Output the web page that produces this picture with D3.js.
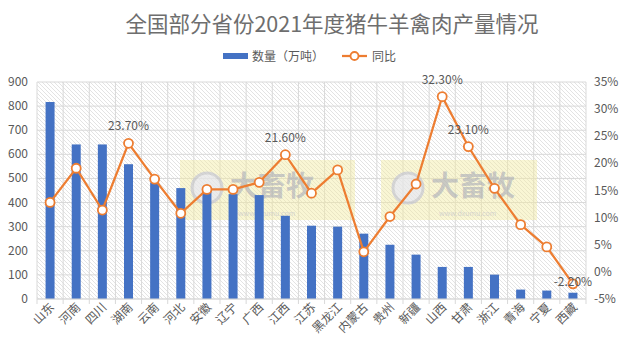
<!DOCTYPE html>
<html><head><meta charset="utf-8">
<script src="https://cdn.jsdelivr.net/npm/d3@7"></script>
<style>
html,body{margin:0;padding:0;background:#fff;}
text{font-family:"Microsoft YaHei","Noto Sans CJK SC",sans-serif;}
</style></head>
<body><svg id="c" width="623" height="353"></svg>
<script>
const categories = ["山东","河南","四川","湖南","云南","河北","安徽","辽宁","广西","江西","江苏","黑龙江","内蒙古","贵州","新疆","山西","甘肃","浙江","青海","宁夏","西藏"];
const amount = [817,641,641,559,483,460,446,435,431,345,304,300,271,225,184,133,133,101,39,35,26];
const yoy = [12.8,19.1,11.4,23.7,17.1,10.8,15.2,15.2,16.5,21.6,14.5,18.8,3.7,10.2,16.2,32.3,23.1,15.4,8.7,4.6,-2.2];
const labelled = {"湖南":"23.70%","江西":"21.60%","山西":"32.30%","甘肃":"23.10%","西藏":"-2.20%"};
const leftTicks = [0,100,200,300,400,500,600,700,800,900];
const rightTicks = [-5,0,5,10,15,20,25,30,35];
const title = "全国部分省份2021年度猪牛羊禽肉产量情况";
const legendNames = ["数量（万吨）","同比"];

const svg = d3.select("#c");
const L=37,R=586,T=82,B=299;
const x = d3.scaleBand().domain(categories).range([L,R]).paddingInner(0).paddingOuter(0);
const y = d3.scaleLinear().domain([0,900]).range([B,T]);
const y2 = d3.scaleLinear().domain([-5,35]).range([B,T]);
const grid="#d9d9d9", txt="#595959";

const defs = svg.append("defs");
const pat = defs.append("pattern").attr("id","hatch").attr("patternUnits","userSpaceOnUse")
  .attr("width",4).attr("height",4);
pat.append("path").attr("d","M-1,-1 L5,5 M-1,3 L1,5 M3,-1 L5,1").attr("stroke","#dcdcdc").attr("stroke-width",0.8);
svg.append("rect").attr("x",L).attr("y",T).attr("width",R-L).attr("height",B-T).attr("fill","url(#hatch)");

// gridlines
svg.append("g").selectAll("line").data(leftTicks).join("line")
  .attr("x1",L).attr("x2",R).attr("y1",d=>y(d)).attr("y2",d=>y(d)).attr("stroke",grid).attr("stroke-width",1);
const bounds = categories.map(c=>x(c)).concat([R]);
svg.append("g").selectAll("line").data(bounds).join("line")
  .attr("x1",d=>d).attr("x2",d=>d).attr("y1",T).attr("y2",B+5).attr("stroke",grid).attr("stroke-width",1);

// watermarks
function wm(x0,w){
  const g=svg.append("g").attr("opacity",0.75);
  g.append("rect").attr("x",x0).attr("y",160).attr("width",w).attr("height",60).attr("fill","#f3eba0").attr("opacity",0.6);
  g.append("circle").attr("cx",x0+27).attr("cy",188).attr("r",15).attr("fill","#e6e6e6").attr("stroke","#c8c8c8").attr("stroke-width",3);
  g.append("text").attr("x",x0+50).attr("y",196).attr("font-size",28).attr("font-weight","bold").attr("fill","#b8b8b0").text("大畜牧");
  g.append("text").attr("x",x0+58).attr("y",216).attr("font-size",7).attr("fill","#c8c8c0").text("www.dxumu.com");
}
wm(180,175); wm(381,156);

// bars
const bw=9;
svg.append("g").selectAll("rect").data(categories).join("rect")
  .attr("x",(d)=>x(d)+x.bandwidth()/2-bw/2).attr("width",bw)
  .attr("y",(d,i)=>y(amount[i])).attr("height",(d,i)=>B-y(amount[i])).attr("fill","#4472c4");

// line
const cx = d=>x(d)+x.bandwidth()/2;
const line = d3.line().x((d,i)=>cx(categories[i])).y(d=>y2(d));
svg.append("path").datum(yoy).attr("d",line).attr("fill","none").attr("stroke","#ed7d31").attr("stroke-width",2.25);
svg.append("g").selectAll("circle").data(yoy).join("circle")
  .attr("cx",(d,i)=>cx(categories[i])).attr("cy",d=>y2(d)).attr("r",4.5)
  .attr("fill","#fff").attr("stroke","#ed7d31").attr("stroke-width",1.8);

// data labels
svg.append("g").selectAll("text").data(categories.filter(c=>labelled[c])).join("text")
  .attr("x",d=>cx(d)).attr("y",d=>{const v=yoy[categories.indexOf(d)]; return v<0? y2(v)+2 : y2(v)-13;})
  .attr("text-anchor","middle").attr("font-size",12).attr("fill",txt).text(d=>labelled[d]);

// axes labels
svg.append("g").selectAll("text").data(leftTicks).join("text")
  .attr("x",28).attr("y",d=>y(d)+4).attr("text-anchor","end").attr("font-size",12).attr("fill",txt).text(d=>d);
svg.append("g").selectAll("text").data(rightTicks).join("text")
  .attr("x",594).attr("y",d=>y2(d)+4).attr("text-anchor","start").attr("font-size",12).attr("fill",txt).text(d=>d+"%");
svg.append("line").attr("x1",L).attr("x2",R).attr("y1",B).attr("y2",B).attr("stroke",grid);

svg.append("g").selectAll("text").data(categories).join("text")
  .attr("transform",d=>`translate(${cx(d)+5},${B+9}) rotate(-45)`)
  .attr("text-anchor","end").attr("font-size",12).attr("fill",txt).text(d=>d);

// title
svg.append("text").attr("x",332).attr("y",32).attr("text-anchor","middle").attr("font-size",21.5)
  .attr("fill","#6e6e6e").text(title);

// legend
svg.append("rect").attr("x",223).attr("y",53).attr("width",25).attr("height",6).attr("fill","#4472c4");
svg.append("text").attr("x",252).attr("y",61).attr("font-size",12).attr("fill",txt).text(legendNames[0]);
svg.append("line").attr("x1",342).attr("x2",367).attr("y1",56).attr("y2",56).attr("stroke","#ed7d31").attr("stroke-width",2.25);
svg.append("circle").attr("cx",354.5).attr("cy",56).attr("r",4).attr("fill","#fff").attr("stroke","#ed7d31").attr("stroke-width",1.8);
svg.append("text").attr("x",372).attr("y",61).attr("font-size",12).attr("fill",txt).text(legendNames[1]);
</script></body></html>
